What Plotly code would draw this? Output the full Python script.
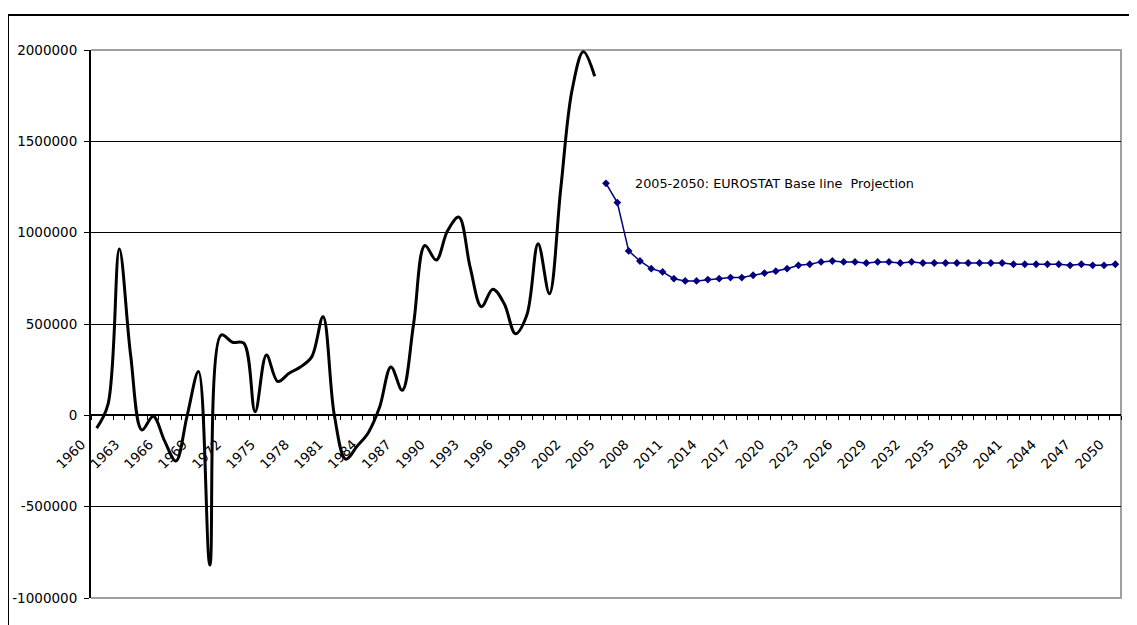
import plotly.graph_objects as go

# ---- data ----
hist_years = list(range(1960, 2005))
hist_values = [
    -70000, 60000, 910000, 330000, -80000, -5000, -140000, -250000, 0, 240000,
    -820000, 440000, 400000, 395000, 20000, 330000, 185000, 230000, 265000, 320000,
    540000, 0, -240000, -170000, -95000, 45000, 265000, 137000, 500000, 930000,
    850000, 1010000, 1085000, 810000, 595000, 690000, 612000, 447000, 548000, 940000,
    666000, 1240000, 1780000, 1990000, 1856000,
]

proj_years = list(range(2005, 2051))
proj_values = [
    1270000, 1165000, 900000, 845000, 803000, 785000, 748000, 736000, 736000, 743000,
    748000, 754000, 754000, 767000, 779000, 789000, 803000, 821000, 827000, 840000,
    845000, 840000, 840000, 834000, 840000, 840000, 834000, 840000, 834000, 834000,
    834000, 834000, 834000, 834000, 834000, 834000, 827000, 827000, 827000, 827000,
    827000, 821000, 827000, 821000, 821000, 827000,
]

x_tick_vals = list(range(1960, 2051, 3))
x_tick_labels = [str(v) for v in x_tick_vals]
y_tick_vals = [-1000000, -500000, 0, 500000, 1000000, 1500000, 2000000]
y_tick_labels = ["-1000000", "-500000", "0", "500000", "1000000", "1500000", "2000000"]
annotation_text = "2005-2050: EUROSTAT Base line  Projection"

NBSP = "\u00a0"
# trailing padding moves rotated labels down-left, as in the original
x_tick_text = [t + NBSP * 5 for t in x_tick_labels]
y_tick_text = [t + NBSP for t in y_tick_labels]

# page body has an 8px margin, so figure coords = screenshot coords - 8
W, H = 1137, 625
L, R, T, B = 83, 24, 42, 35

fig = go.Figure()
fig.add_trace(go.Scatter(
    x=hist_years, y=hist_values, mode="lines",
    line=dict(color="black", width=3, shape="spline", smoothing=1.0),
    showlegend=False, hoverinfo="x+y",
))
fig.add_trace(go.Scatter(
    x=proj_years, y=proj_values, mode="lines+markers",
    line=dict(color="#000080", width=1.5),
    marker=dict(symbol="diamond", size=6, color="#000080"),
    showlegend=False, hoverinfo="x+y",
))

fig.add_annotation(
    x=2007.35, y=1270000, xref="x", yref="y", text=annotation_text,
    showarrow=False, xanchor="left", yanchor="middle",
    font=dict(family="DejaVu Sans", size=12.8, color="black"),
)

pw = W - L - R
ph = H - T - B
def px(xp):
    return (xp - L) / pw
def py(yp):
    return (H - B - yp) / ph

# plot-area border (gray: top, right, bottom)
fig.add_shape(type="path", xref="paper", yref="paper",
              path="M 0,1 L 1,1 L 1,0 L 0,0",
              line=dict(color="#a0a0a0", width=2), layer="between")
# outer chart border (black, cropped at right/bottom)
fig.add_shape(type="rect", xref="paper", yref="paper",
              x0=px(0), y0=py(640), x1=px(1150), y1=py(7),
              line=dict(color="black", width=2), layer="above")

fig.update_layout(
    width=W, height=H,
    margin=dict(l=L, r=R, t=T, b=B, pad=0, autoexpand=False),
    paper_bgcolor="white", plot_bgcolor="white",
    font=dict(family="DejaVu Sans", size=13, color="black"),
    xaxis=dict(
        range=[1959.5, 2050.5], automargin=False,
        anchor="free", position=1/3,
        tickmode="array", tickvals=x_tick_vals, ticktext=x_tick_text,
        tickangle=-45, ticks="outside", ticklen=0,
        tickfont=dict(family="DejaVu Sans", size=13.5, color="black"),
        showline=True, linecolor="black", linewidth=1.5,
        showgrid=False, zeroline=False,
        minor=dict(tick0=1959.5, dtick=1, ticks="outside", ticklen=4,
                   tickcolor="black", showgrid=False),
    ),
    yaxis=dict(
        range=[-1000000, 2000000], automargin=False,
        tickmode="array", tickvals=y_tick_vals, ticktext=y_tick_text,
        ticks="outside", ticklen=5, tickcolor="black",
        tickfont=dict(family="DejaVu Sans", size=13.5, color="black"),
        showline=True, linecolor="black", linewidth=1.5,
        showgrid=True, gridcolor="black", gridwidth=1,
        zeroline=False,
    ),
)

fig.write_html("out.html")
